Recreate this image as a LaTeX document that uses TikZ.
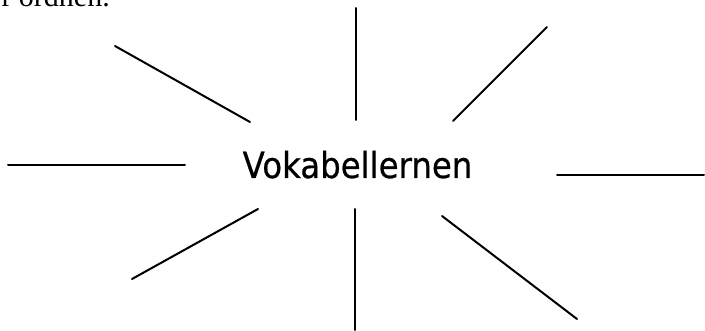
\documentclass[tikz,border=0pt]{standalone}
\usepackage{fontspec}
\setmainfont{Liberation Serif}
\newfontfamily\hubfont[FakeBold=0.6]{DejaVu Sans}
\begin{document}
\begin{tikzpicture}[x=1pt,y=-1pt,
  spoke/.style={line width=2pt,line cap=round,black},
  hub/.style={font=\hubfont\fontsize{36}{40}\selectfont,inner sep=0pt,anchor=base},
  cuttext/.style={font=\fontsize{30}{34}\selectfont,inner sep=0pt,anchor=base east}]
\path[use as bounding box] (0,0) rectangle (705,331);
\clip (0,0) rectangle (705,331);
\fill[white] (0,0) rectangle (705,331);
\node[cuttext] (head) at (110,7) {r ordnen.};
\node[hub] (c) at (357.5,178) {\scalebox{0.9}[1]{Vokabellernen}};
% spoke end points
\coordinate (tl1) at (115,46);  \coordinate (tl2) at (250,122);
\coordinate (t1) at (356,8);    \coordinate (t2) at (356,120);
\coordinate (tr1) at (547,27);  \coordinate (tr2) at (453,121);
\coordinate (l1) at (8,165);    \coordinate (l2) at (185,165);
\coordinate (r1) at (557,175);  \coordinate (r2) at (704,175);
\coordinate (bl1) at (132,279); \coordinate (bl2) at (258,209);
\coordinate (b1) at (355,209);  \coordinate (b2) at (355,330);
\coordinate (br1) at (442,216); \coordinate (br2) at (577,319);
\draw[spoke] (tl1) -- (tl2);
\draw[spoke] (t1) -- (t2);
\draw[spoke] (tr1) -- (tr2);
\draw[spoke] (l1) -- (l2);
\draw[spoke] (r1) -- (r2);
\draw[spoke] (bl1) -- (bl2);
\draw[spoke] (b1) -- (b2);
\draw[spoke] (br1) -- (br2);
\end{tikzpicture}
\end{document}
